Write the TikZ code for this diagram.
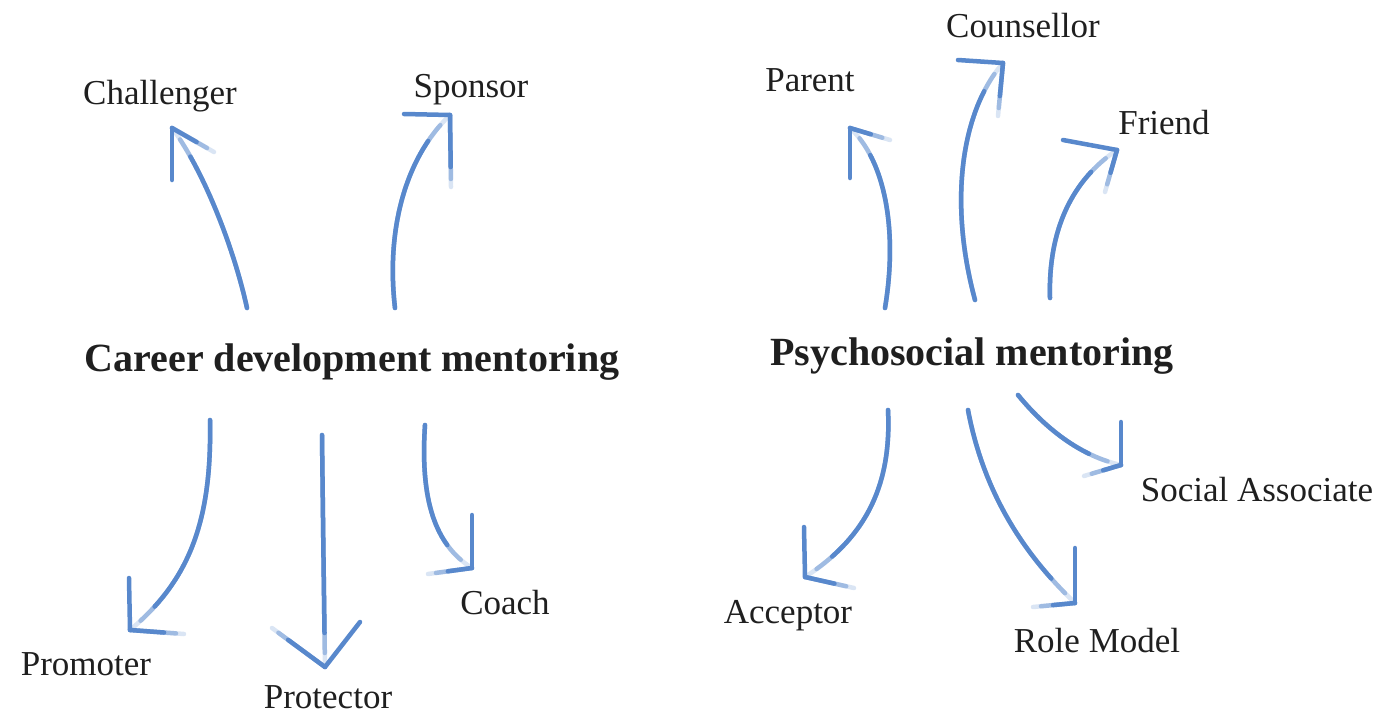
\documentclass[tikz,border=0pt]{standalone}
\usepackage{fontspec}
\setmainfont{Liberation Serif}
\definecolor{chalkblue}{RGB}{88,136,204}
\begin{document}
\begin{tikzpicture}[x=1pt,y=-1pt,
  lbl/.style={anchor=base,inner sep=0pt,font=\fontsize{35}{40}\selectfont,text=black!88},
  hub/.style={anchor=base,inner sep=0pt,font=\fontsize{40}{46}\selectfont\bfseries,text=black!88},
  chalk/.style={draw=chalkblue,line width=4.5pt,line cap=round,line join=round},
  faint/.style={chalk,draw opacity=0.22},
  half/.style={chalk,draw opacity=0.45,dash pattern=on 2000pt off #1,dash phase=2000pt},
  fade/.style={chalk,dash pattern=on 2000pt off #1,dash phase=2000pt}]
\useasboundingbox (0,0) rectangle (1381,715);
% hubs
\node[hub] (career) at (352,371) {Career development mentoring};
\node[hub] (psycho) at (972,365) {Psychosocial mentoring};
% labels
\node[lbl] (challenger) at (160,104) {Challenger};
\node[lbl] (sponsor) at (471,97) {Sponsor};
\node[lbl] (promoter) at (86,675) {Promoter};
\node[lbl] (protector) at (328,708) {Protector};
\node[lbl] (coach) at (505,614) {Coach};
\node[lbl] (parent) at (810,91) {Parent};
\node[lbl] (counsellor) at (1023,37) {Counsellor};
\node[lbl] (friend) at (1164,134) {Friend};
\node[lbl] (acceptor) at (788,623) {Acceptor};
\node[lbl] (rolemodel) at (1097,652) {Role Model};
\node[lbl] (social) at (1257,501) {Social Associate};
% coordinates: s = start, t = tip, a = solid arm, b = fading arm
\coordinate (s1) at (247,308); \coordinate (t1) at (172,128); \coordinate (a1) at (172,180); \coordinate (b1) at (214,152);
\coordinate (s2) at (395,308); \coordinate (t2) at (450,115); \coordinate (a2) at (404,114); \coordinate (b2) at (451,187);
\coordinate (s3) at (210,420); \coordinate (t3) at (130,630); \coordinate (a3) at (129,578); \coordinate (b3) at (184,634);
\coordinate (s4) at (322,435); \coordinate (t4) at (325,667); \coordinate (a4) at (360,622); \coordinate (b4) at (272,628);
\coordinate (s5) at (425,425); \coordinate (t5) at (472,568); \coordinate (a5) at (472,515); \coordinate (b5) at (428,574);
\coordinate (s6) at (885,308); \coordinate (t6) at (850,128); \coordinate (a6) at (850,178); \coordinate (b6) at (890,140);
\coordinate (s7) at (975,300); \coordinate (t7) at (1003,63); \coordinate (a7) at (958,60); \coordinate (b7) at (998,116);
\coordinate (s8) at (1050,298); \coordinate (t8) at (1117,150); \coordinate (a8) at (1063,140); \coordinate (b8) at (1105,192);
\coordinate (s9) at (888,410); \coordinate (t9) at (805,577); \coordinate (a9) at (804,527); \coordinate (b9) at (854,588);
\coordinate (s10) at (968,410); \coordinate (t10) at (1075,603); \coordinate (a10) at (1075,548); \coordinate (b10) at (1033,607);
\coordinate (s11) at (1018,395); \coordinate (t11) at (1121,465); \coordinate (a11) at (1121,422); \coordinate (b11) at (1084,476);
% shafts drawn from tip back to start, so the dash gap makes the tip end fade
\foreach \i/\ca/\cb in {1/{(200,165)}/{(232,240)},
                        2/{(405,158)}/{(386,230)},
                        3/{(190,580)}/{(212,520)},
                        4/{(324,600)}/{(323,520)},
                        5/{(435,545)}/{(420,500)},
                        6/{(885,160)}/{(898,230)},
                        7/{(962,110)}/{(948,200)},
                        8/{(1072,180)}/{(1048,230)},
                        9/{(862,540)}/{(892,490)},
                        10/{(1030,560)}/{(985,500)},
                        11/{(1080,456)}/{(1045,428)}}{
  \draw[faint] (t\i) .. controls \ca and \cb .. (s\i);
  \draw[half=14pt] (t\i) .. controls \ca and \cb .. (s\i);
  \draw[fade=34pt] (t\i) .. controls \ca and \cb .. (s\i);
  \draw[chalk] (a\i) -- (t\i);
  \draw[faint] (b\i) -- (t\i);
  \draw[half=8pt] (b\i) -- (t\i);
  \draw[fade=20pt] (b\i) -- (t\i);
}
\end{tikzpicture}
\end{document}
